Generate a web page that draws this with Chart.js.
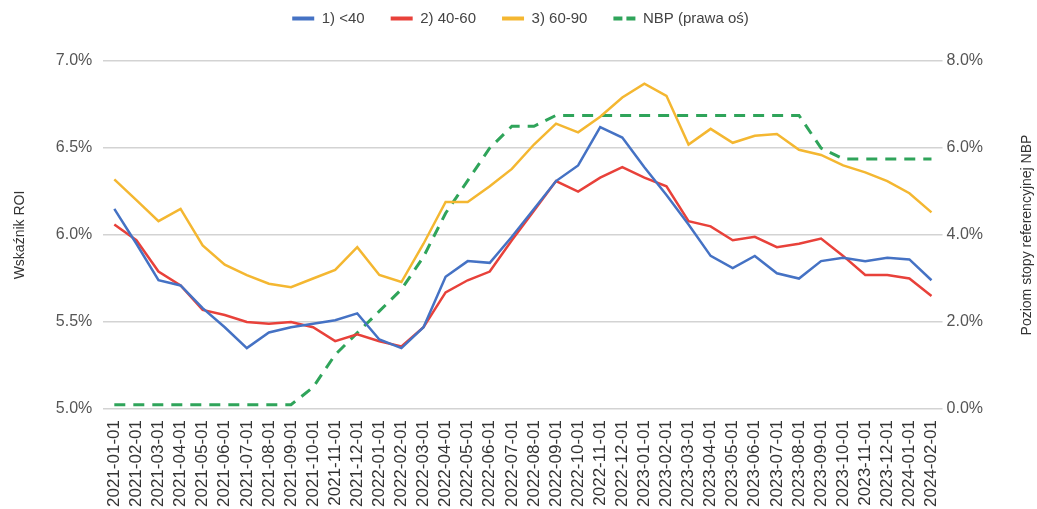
<!DOCTYPE html>
<html>
<head>
<meta charset="utf-8">
<script src="https://cdn.jsdelivr.net/npm/chart.js@4"></script>
<style>
  html, body { margin: 0; padding: 0; background: #fff; }
  #wrap { width: 1037px; height: 509px; }
</style>
</head>
<body>
<div id="wrap"><canvas id="chart"></canvas></div>
<script>
const labels = [
  '2021-01-01','2021-02-01','2021-03-01','2021-04-01','2021-05-01','2021-06-01',
  '2021-07-01','2021-08-01','2021-09-01','2021-10-01','2021-11-01','2021-12-01',
  '2022-01-01','2022-02-01','2022-03-01','2022-04-01','2022-05-01','2022-06-01',
  '2022-07-01','2022-08-01','2022-09-01','2022-10-01','2022-11-01','2022-12-01',
  '2023-01-01','2023-02-01','2023-03-01','2023-04-01','2023-05-01','2023-06-01',
  '2023-07-01','2023-08-01','2023-09-01','2023-10-01','2023-11-01','2023-12-01',
  '2024-01-01','2024-02-01'
];

// ROI, % (left axis)
const roiUnder40 = [6.15, 5.95, 5.74, 5.71, 5.58, 5.47, 5.35, 5.44, 5.47, 5.49, 5.51, 5.55,
  5.40, 5.35, 5.47, 5.76, 5.85, 5.84, 5.99, 6.15, 6.31, 6.40, 6.62, 6.56,
  6.39, 6.23, 6.06, 5.88, 5.81, 5.88, 5.78, 5.75, 5.85, 5.87, 5.85, 5.87, 5.86, 5.74];
const roi40to60 = [6.06, 5.97, 5.79, 5.71, 5.57, 5.54, 5.50, 5.49, 5.50, 5.47, 5.39, 5.43,
  5.39, 5.36, 5.47, 5.67, 5.74, 5.79, 5.97, 6.14, 6.31, 6.25, 6.33, 6.39,
  6.33, 6.28, 6.08, 6.05, 5.97, 5.99, 5.93, 5.95, 5.98, 5.88, 5.77, 5.77, 5.75, 5.65];
const roi60to90 = [6.32, 6.20, 6.08, 6.15, 5.94, 5.83, 5.77, 5.72, 5.70, 5.75, 5.80, 5.93,
  5.77, 5.73, 5.95, 6.19, 6.19, 6.28, 6.38, 6.52, 6.64, 6.59, 6.68, 6.79,
  6.87, 6.80, 6.52, 6.61, 6.53, 6.57, 6.58, 6.49, 6.46, 6.40, 6.36, 6.31, 6.24, 6.13];

// NBP reference rate, % (right axis)
const nbpRate = [0.1, 0.1, 0.1, 0.1, 0.1, 0.1, 0.1, 0.1, 0.1, 0.5, 1.25, 1.75,
  2.25, 2.75, 3.5, 4.5, 5.25, 6.0, 6.5, 6.5, 6.75, 6.75, 6.75, 6.75,
  6.75, 6.75, 6.75, 6.75, 6.75, 6.75, 6.75, 6.75, 6.0, 5.75, 5.75, 5.75, 5.75, 5.75];

const fontFamily = 'Arial, "Liberation Sans", sans-serif';

// right axis title reads bottom-to-top in the original, so draw it by hand
const rightTitle = {
  id: 'rightTitle',
  afterDraw(chart) {
    const c = chart.ctx;
    const area = chart.chartArea;
    c.save();
    c.translate(1027, (area.top + area.bottom) / 2);
    c.rotate(-Math.PI / 2);
    c.font = '14px ' + fontFamily;
    c.fillStyle = '#333';
    c.textAlign = 'center';
    c.textBaseline = 'middle';
    c.fillText('Poziom stopy referencyjnej NBP', 0, 0);
    c.restore();
  }
};

// more room between legend and plot
const legendGap = {
  id: 'legendGap',
  beforeInit(chart) {
    const fit = chart.legend.fit;
    chart.legend.fit = function () {
      fit.bind(chart.legend)();
      this.height = 76;
    };
  }
};

const ctx = document.getElementById('chart').getContext('2d');
const myChart = new Chart(ctx, {
  type: 'line',
  data: {
    labels: labels,
    datasets: [
      { label: '1) <40', data: roiUnder40, borderColor: '#4572c4', backgroundColor: '#4572c4', yAxisID: 'y' },
      { label: '2) 40-60', data: roi40to60, borderColor: '#e8413a', backgroundColor: '#e8413a', yAxisID: 'y' },
      { label: '3) 60-90', data: roi60to90, borderColor: '#f4b731', backgroundColor: '#f4b731', yAxisID: 'y' },
      { label: 'NBP (prawa oś)', data: nbpRate, borderColor: '#2fa45a', backgroundColor: '#2fa45a',
        borderDash: [11, 8], borderWidth: 3, yAxisID: 'y1' }
    ]
  },
  options: {
    responsive: true,
    maintainAspectRatio: false,
    animation: false,
    layout: { padding: { top: -15, left: 8, right: 4, bottom: -1 } },
    elements: {
      point: { radius: 0 },
      line: { borderWidth: 2.5, tension: 0 }
    },
    plugins: {
      legend: {
        position: 'top',
        labels: {
          usePointStyle: true,
          pointStyle: 'line',
          pointStyleWidth: 22,
          padding: 26,
          color: '#444',
          font: { family: fontFamily, size: 15 },
          generateLabels(chart) {
            const items = Chart.defaults.plugins.legend.labels.generateLabels(chart);
            items.forEach((item, i) => {
              item.lineWidth = 4;
              item.lineDash = i === 3 ? [9, 4] : [];
            });
            return items;
          }
        }
      },
      tooltip: { enabled: false }
    },
    scales: {
      x: {
        offset: true,
        grid: { display: false },
        border: { display: false },
        ticks: {
          autoSkip: false,
          minRotation: 90,
          maxRotation: 90,
          padding: 3,
          color: '#333',
          font: { family: fontFamily, size: 17 }
        }
      },
      y: {
        position: 'left',
        min: 5,
        max: 7,
        ticks: {
          stepSize: 0.5,
          padding: 11,
          color: '#555',
          font: { family: fontFamily, size: 16 },
          callback: (v) => v.toFixed(1) + '%'
        },
        grid: { color: '#d3d3d3', lineWidth: 1.5, drawTicks: false },
        border: { display: false },
        title: {
          display: true,
          text: 'Wskaźnik ROI',
          color: '#333',
          padding: { top: 4, bottom: 16 },
          font: { family: fontFamily, size: 14 }
        }
      },
      y1: {
        position: 'right',
        min: 0,
        max: 8,
        // leave space on the right for the hand-drawn title
        afterFit(scale) { scale.width += 46; },
        ticks: {
          stepSize: 2,
          padding: 4,
          color: '#555',
          font: { family: fontFamily, size: 16 },
          callback: (v) => v.toFixed(1) + '%'
        },
        grid: { display: false, drawTicks: false },
        border: { display: false }
      }
    }
  },
  plugins: [rightTitle, legendGap]
});
</script>
</body>
</html>
